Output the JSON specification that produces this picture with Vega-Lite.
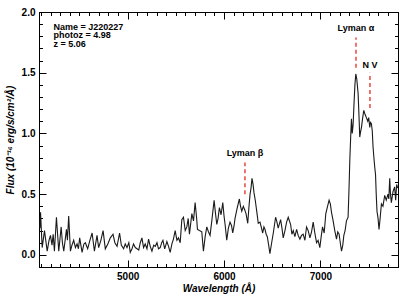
{
 "$schema": "https://vega.github.io/schema/vega-lite/v6.json",
 "width": 359,
 "height": 255,
 "autosize": "none",
 "padding": {"left": 39, "top": 12, "right": 2, "bottom": 33},
 "background": "white",
 "config": {
  "view": {"stroke": "black", "strokeWidth": 1},
  "axis": {"domainColor": "black", "tickColor": "black", "labelColor": "black", "titleColor": "black", "labelFont": "Liberation Sans", "titleFont": "Liberation Sans", "grid": false, "tickWidth": 1, "domainWidth": 1}
 },
 "datasets": {
  "spectrum": [
   {"w":4090,"f":0.22},{"w":4096,"f":0.35},{"w":4113,"f":0.06},{"w":4137,"f":0.20},{"w":4165,"f":0.03},{"w":4184,"f":0.12},{"w":4199,"f":0.16},{"w":4215,"f":0.08},{"w":4227,"f":0.17},{"w":4240,"f":0.03},
   {"w":4261,"f":0.31},{"w":4272,"f":0.18},{"w":4285,"f":0.03},{"w":4310,"f":0.23},{"w":4323,"f":0.10},{"w":4337,"f":0.03},{"w":4365,"f":0.21},{"w":4375,"f":0.12},{"w":4388,"f":0.32},{"w":4406,"f":0.03},
   {"w":4422,"f":0.08},{"w":4440,"f":0.12},{"w":4458,"f":0.06},{"w":4475,"f":0.09},{"w":4489,"f":0.05},{"w":4502,"f":0.14},{"w":4527,"f":0.02},{"w":4546,"f":0.09},{"w":4561,"f":0.10},{"w":4585,"f":0.05},
   {"w":4608,"f":0.12},{"w":4631,"f":0.18},{"w":4655,"f":0.03},{"w":4682,"f":0.16},{"w":4699,"f":0.06},{"w":4722,"f":0.12},{"w":4745,"f":0.20},{"w":4768,"f":0.05},{"w":4794,"f":0.09},{"w":4820,"f":0.14},
   {"w":4848,"f":0.17},{"w":4867,"f":0.10},{"w":4890,"f":0.07},{"w":4916,"f":0.18},{"w":4934,"f":0.08},{"w":4958,"f":0.05},{"w":4975,"f":0.09},{"w":4993,"f":0.06},{"w":5012,"f":0.10},{"w":5027,"f":0.02},
   {"w":5045,"f":0.05},{"w":5061,"f":0.09},{"w":5079,"f":0.06},{"w":5097,"f":0.05},{"w":5115,"f":0.04},{"w":5131,"f":0.10},{"w":5148,"f":0.14},{"w":5165,"f":0.06},{"w":5182,"f":0.09},{"w":5200,"f":0.05},
   {"w":5217,"f":0.13},{"w":5234,"f":0.07},{"w":5252,"f":0.03},{"w":5270,"f":0.08},{"w":5286,"f":0.07},{"w":5304,"f":0.10},{"w":5320,"f":0.05},{"w":5338,"f":0.06},{"w":5353,"f":0.10},{"w":5366,"f":0.12},
   {"w":5384,"f":0.05},{"w":5407,"f":0.11},{"w":5424,"f":0.07},{"w":5441,"f":0.02},{"w":5459,"f":0.09},{"w":5475,"f":0.13},{"w":5493,"f":0.20},{"w":5511,"f":0.12},{"w":5527,"f":0.14},{"w":5545,"f":0.10},
   {"w":5562,"f":0.29},{"w":5579,"f":0.31},{"w":5597,"f":0.20},{"w":5614,"f":0.23},{"w":5628,"f":0.30},{"w":5641,"f":0.17},{"w":5666,"f":0.34},{"w":5683,"f":0.28},{"w":5700,"f":0.43},{"w":5716,"f":0.30},
   {"w":5724,"f":0.21},{"w":5745,"f":0.20},{"w":5769,"f":0.19},{"w":5786,"f":0.03},{"w":5804,"f":0.15},{"w":5821,"f":0.23},{"w":5838,"f":0.19},{"w":5855,"f":0.16},{"w":5876,"f":0.30},{"w":5897,"f":0.45},
   {"w":5910,"f":0.35},{"w":5925,"f":0.25},{"w":5938,"f":0.30},{"w":5952,"f":0.39},{"w":5969,"f":0.33},{"w":5987,"f":0.43},{"w":6000,"f":0.32},{"w":6011,"f":0.25},{"w":6028,"f":0.12},{"w":6045,"f":0.22},
   {"w":6062,"f":0.27},{"w":6078,"f":0.24},{"w":6090,"f":0.18},{"w":6104,"f":0.24},{"w":6114,"f":0.30},{"w":6135,"f":0.38},{"w":6159,"f":0.46},{"w":6171,"f":0.40},{"w":6184,"f":0.36},{"w":6200,"f":0.40},
   {"w":6215,"f":0.37},{"w":6228,"f":0.34},{"w":6246,"f":0.26},{"w":6259,"f":0.40},{"w":6270,"f":0.50},{"w":6280,"f":0.55},{"w":6290,"f":0.63},{"w":6301,"f":0.58},{"w":6311,"f":0.51},{"w":6324,"f":0.45},
   {"w":6339,"f":0.36},{"w":6355,"f":0.26},{"w":6373,"f":0.27},{"w":6389,"f":0.22},{"w":6401,"f":0.18},{"w":6414,"f":0.23},{"w":6425,"f":0.21},{"w":6437,"f":0.17},{"w":6449,"f":0.15},{"w":6463,"f":0.08},
   {"w":6476,"f":0.01},{"w":6494,"f":0.10},{"w":6511,"f":0.18},{"w":6535,"f":0.31},{"w":6549,"f":0.27},{"w":6562,"f":0.22},{"w":6587,"f":0.29},{"w":6601,"f":0.22},{"w":6614,"f":0.14},{"w":6632,"f":0.20},
   {"w":6649,"f":0.27},{"w":6666,"f":0.31},{"w":6691,"f":0.25},{"w":6704,"f":0.17},{"w":6718,"f":0.20},{"w":6735,"f":0.15},{"w":6753,"f":0.21},{"w":6769,"f":0.16},{"w":6787,"f":0.13},{"w":6804,"f":0.16},
   {"w":6821,"f":0.17},{"w":6839,"f":0.12},{"w":6856,"f":0.23},{"w":6873,"f":0.20},{"w":6891,"f":0.14},{"w":6908,"f":0.19},{"w":6925,"f":0.27},{"w":6942,"f":0.18},{"w":6960,"f":0.10},{"w":6976,"f":0.12},
   {"w":6994,"f":0.06},{"w":7008,"f":0.15},{"w":7022,"f":0.23},{"w":7039,"f":0.18},{"w":7056,"f":0.34},{"w":7074,"f":0.40},{"w":7090,"f":0.45},{"w":7103,"f":0.42},{"w":7115,"f":0.35},{"w":7132,"f":0.28},
   {"w":7149,"f":0.20},{"w":7167,"f":0.13},{"w":7180,"f":0.19},{"w":7194,"f":0.17},{"w":7206,"f":0.10},{"w":7219,"f":0.03},{"w":7232,"f":0.08},{"w":7243,"f":0.16},{"w":7256,"f":0.20},{"w":7270,"f":0.28},
   {"w":7287,"f":0.31},{"w":7297,"f":0.55},{"w":7305,"f":0.78},{"w":7313,"f":0.95},{"w":7322,"f":1.12},{"w":7330,"f":1.00},{"w":7339,"f":1.07},{"w":7349,"f":1.25},{"w":7358,"f":1.40},{"w":7367,"f":1.49},
   {"w":7377,"f":1.45},{"w":7391,"f":1.33},{"w":7400,"f":1.15},{"w":7408,"f":0.97},{"w":7416,"f":1.01},{"w":7426,"f":1.05},{"w":7437,"f":1.12},{"w":7450,"f":1.19},{"w":7462,"f":1.16},{"w":7477,"f":1.13},
   {"w":7491,"f":1.10},{"w":7501,"f":1.13},{"w":7512,"f":1.05},{"w":7520,"f":1.09},{"w":7529,"f":1.08},{"w":7538,"f":1.02},{"w":7546,"f":0.89},{"w":7555,"f":0.80},{"w":7564,"f":0.72},{"w":7572,"f":0.66},
   {"w":7579,"f":0.50},{"w":7587,"f":0.36},{"w":7598,"f":0.30},{"w":7608,"f":0.21},{"w":7617,"f":0.28},{"w":7633,"f":0.42},{"w":7649,"f":0.40},{"w":7667,"f":0.49},{"w":7683,"f":0.45},{"w":7701,"f":0.50},
   {"w":7710,"f":0.46},{"w":7719,"f":0.63},{"w":7727,"f":0.50},{"w":7736,"f":0.43},{"w":7753,"f":0.52},{"w":7770,"f":0.56},{"w":7781,"f":0.45},{"w":7791,"f":0.58},{"w":7802,"f":0.55}
  ],
  "lines": [
   {"w": 6217, "f1": 0.50, "f2": 0.76},
   {"w": 7369, "f1": 1.54, "f2": 1.79},
   {"w": 7514, "f1": 1.21, "f2": 1.50}
  ],
  "labels": [
   {"w": 6217, "f": 0.835, "t": "Lyman β"},
   {"w": 7369, "f": 1.87, "t": "Lyman α"},
   {"w": 7514, "f": 1.56, "t": "N V"}
  ],
  "info": [
   {"w": 4230, "f": 1.88, "t": "Name = J220227"},
   {"w": 4230, "f": 1.81, "t": "photoz = 4.98"},
   {"w": 4230, "f": 1.74, "t": "z = 5.06"}
  ]
 },
 "resolve": {"axis": {"x": "independent", "y": "independent"}},
 "layer": [
  {
   "data": {"name": "spectrum"},
   "mark": {"type": "line", "color": "#1a1a1a", "strokeWidth": 1.1, "clip": true},
   "encoding": {
    "x": {"field": "w", "type": "quantitative", "scale": {"domain": [4080, 7805], "nice": false, "zero": false},
     "axis": {"orient": "bottom", "values": [4100,4200,4300,4400,4500,4600,4700,4800,4900,5000,5100,5200,5300,5400,5500,5600,5700,5800,5900,6000,6100,6200,6300,6400,6500,6600,6700,6800,6900,7000,7100,7200,7300,7400,7500,7600,7700,7800],
      "labelExpr": "datum.value % 1000 === 0 ? datum.label : ''", "format": "d",
      "tickSize": {"condition": {"test": "datum.value % 1000 === 0", "value": -7}, "value": -3.5},
      "labelPadding": 11, "labelFontSize": 10, "labelFontWeight": "bold", "labelFlush": false,
      "title": "Wavelength (Å)", "titleFontSize": 10, "titleFontStyle": "italic", "titleFontWeight": "bold", "titlePadding": 2}},
    "y": {"field": "f", "type": "quantitative", "scale": {"domain": [-0.1, 2.0], "nice": false, "zero": false},
     "axis": {"orient": "left", "values": [-0.1,0,0.1,0.2,0.3,0.4,0.5,0.6,0.7,0.8,0.9,1.0,1.1,1.2,1.3,1.4,1.5,1.6,1.7,1.8,1.9,2.0],
      "labelExpr": "abs(round(datum.value*10) % 5) === 0 ? datum.label : ''", "format": ".1f",
      "tickSize": {"condition": {"test": "abs(round(datum.value*10) % 5) === 0", "value": -7}, "value": -3.5},
      "labelPadding": 11, "labelFontSize": 10, "labelFontWeight": "bold", "labelFlush": false,
      "title": "Flux (10⁻¹⁶ erg/s/cm²/Å)", "titleFontSize": 10, "titleFontStyle": "italic", "titleFontWeight": "bold", "titlePadding": 6}}
   }
  },
  {
   "data": {"name": "lines"},
   "mark": {"type": "rule", "color": "#e8483f", "strokeWidth": 1.5, "strokeDash": [4, 3]},
   "encoding": {
    "x": {"field": "w", "type": "quantitative", "scale": {"domain": [4080, 7805], "nice": false, "zero": false},
     "axis": {"orient": "top", "values": [4100,4200,4300,4400,4500,4600,4700,4800,4900,5000,5100,5200,5300,5400,5500,5600,5700,5800,5900,6000,6100,6200,6300,6400,6500,6600,6700,6800,6900,7000,7100,7200,7300,7400,7500,7600,7700,7800],
      "labels": false, "title": null,
      "tickSize": {"condition": {"test": "datum.value % 1000 === 0", "value": -7}, "value": -3.5}}},
    "y": {"field": "f1", "type": "quantitative", "scale": {"domain": [-0.1, 2.0], "nice": false, "zero": false},
     "axis": {"orient": "right", "values": [-0.1,0,0.1,0.2,0.3,0.4,0.5,0.6,0.7,0.8,0.9,1.0,1.1,1.2,1.3,1.4,1.5,1.6,1.7,1.8,1.9,2.0],
      "labels": false, "title": null,
      "tickSize": {"condition": {"test": "abs(round(datum.value*10) % 5) === 0", "value": -7}, "value": -3.5}}},
    "y2": {"field": "f2"}
   }
  },
  {
   "data": {"name": "labels"},
   "mark": {"type": "text", "font": "Liberation Sans", "fontWeight": "bold", "fontSize": 9, "color": "black", "align": "center", "baseline": "middle"},
   "encoding": {
    "x": {"field": "w", "type": "quantitative", "scale": {"domain": [4080, 7805], "nice": false, "zero": false}, "axis": null},
    "y": {"field": "f", "type": "quantitative", "scale": {"domain": [-0.1, 2.0], "nice": false, "zero": false}, "axis": null},
    "text": {"field": "t"}
   }
  },
  {
   "data": {"name": "info"},
   "mark": {"type": "text", "font": "Liberation Sans", "fontWeight": "bold", "fontSize": 9, "color": "black", "align": "left", "baseline": "middle"},
   "encoding": {
    "x": {"field": "w", "type": "quantitative", "scale": {"domain": [4080, 7805], "nice": false, "zero": false}, "axis": null},
    "y": {"field": "f", "type": "quantitative", "scale": {"domain": [-0.1, 2.0], "nice": false, "zero": false}, "axis": null},
    "text": {"field": "t"}
   }
  }
 ]
}
